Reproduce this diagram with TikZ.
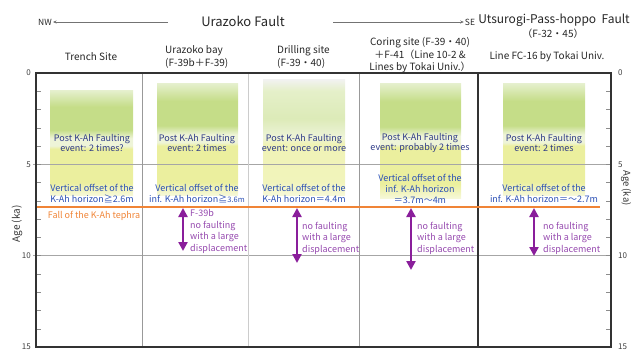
\documentclass[tikz,border=0pt]{standalone}
\usepackage{fontspec}
\setmainfont{Noto Sans CJK JP}
\usetikzlibrary{arrows.meta,positioning,calc}

\definecolor{navy}{HTML}{2E3A87}
\definecolor{offblue}{HTML}{2A4FB5}
\definecolor{arrpurple}{HTML}{8A1E9B}
\definecolor{nfpurple}{HTML}{9548AE}
\definecolor{tephra}{HTML}{F08436}
\definecolor{grn}{HTML}{C5DD88}
\definecolor{grntop}{HTML}{E6F0CF}
\definecolor{bandw}{HTML}{EEF4D8}
\definecolor{ylw}{HTML}{EBEF9E}
\definecolor{ylwfade}{HTML}{F6F8D8}

\pgfdeclareverticalshading{kahfill}{100bp}{color(0bp)=(ylwfade); color(25bp)=(ylwfade);
  color(31bp)=(ylw); color(47bp)=(ylw); color(48.5bp)=(bandw); color(52bp)=(bandw);
  color(56bp)=(grn); color(67bp)=(grn); color(75bp)=(grntop); color(100bp)=(grntop)}
\pgfdeclareverticalshading{drillfill}{100bp}{color(0bp)=(ylwfade); color(25bp)=(ylwfade);
  color(31bp)=(ylw!70!white); color(47bp)=(ylw!75!white); color(50bp)=(bandw);
  color(58bp)=(grn!60!white); color(70bp)=(grn!45!white); color(75bp)=(black!5); color(100bp)=(black!5)}

\begin{document}
\begin{tikzpicture}[x=1pt,y=-1pt,
  hdr/.style={font=\fontsize{10}{13}\selectfont, text=black!85, inner sep=0pt},
  postev/.style={font=\fontsize{9}{10.5}\selectfont, align=center, text=navy, inner sep=0pt},
  offset/.style={font=\fontsize{9}{10.8}\selectfont, align=center, text=offblue, inner sep=0pt},
  nofault/.style={font=\fontsize{9}{11.5}\selectfont, align=left, text=nfpurple, anchor=west, inner sep=0pt},
  faultarrow/.style={{Triangle[length=9pt,width=9pt]}-{Triangle[length=9pt,width=9pt]}, line width=2.4pt, draw=arrpurple},
  dirarrow/.style={-{Stealth[length=3.5pt,width=3pt]}, draw=black!55, line width=0.5pt, shorten >=1pt},
  axlbl/.style={font=\fontsize{8}{9}\selectfont, text=black!75, inner sep=0pt},
  divider/.style={line width=0.6pt, draw=black!40},
  tick/.style={line width=0.5pt, draw=black!45},
]
\useasboundingbox (0,0) rectangle (633,351);

% coloured columns
\shade[shading=kahfill] (50,90) rectangle (133,195);
\shade[shading=kahfill] (157,83) rectangle (238,195);
\shade[shading=drillfill] (263,79) rectangle (345,195);
\shade[shading=kahfill] (380,83) rectangle (461,198);
\shade[shading=kahfill] (503,83) rectangle (585,195);

% grid and frame
\draw[divider, draw=black!35] (33,164.35) -- (611,164.35);
\draw[divider, draw=black!35] (33,255.7) -- (611,255.7);
\draw[divider] (142,73) -- (142,347);
\draw[divider, draw=black!20, line width=1pt] (248,73) -- (248,347);
\draw[divider] (359,73) -- (359,347);
\draw[line width=1.2pt, draw=black!80] (478,73) -- (478,347);
\foreach \k in {1,...,14} {
  \draw[tick] (36,{73+18.27*\k}) -- ++(5,0);
  \draw[tick] (611,{73+18.27*\k}) -- ++(-5,0);
}
\draw[line width=1.1pt, draw=black!80] (36,73) rectangle (611,347);
\foreach \k in {0,5,10,15} {
  \node[axlbl, anchor=east] (lt\k) at (31,{73+18.27*\k}) {\k};
  \node[axlbl, anchor=west] (rt\k) at (618,{73+18.27*\k}) {\k};
}
\node[font=\fontsize{10}{12}\selectfont, text=black!80, rotate=90] (agel) at (17,224) {Age (ka)};
\node[font=\fontsize{9.5}{12}\selectfont, text=black!80, rotate=-90, inner sep=0pt] (ager) at (626,188) {Age (ka)};

% K-Ah tephra
\draw[draw=tephra, line width=2.4pt] (37,207) -- (600,207);
\node[font=\fontsize{9}{10}\selectfont, text=tephra, inner sep=0pt] (fall) at (94,215.5) {Fall of the K-Ah tephra};

% titles
\node[hdr, font=\fontsize{13}{15}\selectfont] (urazoko) at (243,21) {Urazoko Fault};
\node[hdr, font=\fontsize{8.5}{10}\selectfont] (nw) at (45,22) {NW};
\node[hdr, font=\fontsize{8.5}{10}\selectfont] (se) at (470,22) {SE};
\coordinate (nwstart) at (168,22);
\coordinate (sestart) at (333,22);
\draw[dirarrow] (nwstart) -- (nw.east);
\draw[dirarrow] (sestart) -- (se.west);
\node[hdr, font=\fontsize{12}{15}\selectfont] (utsu) at (554,20) {Utsurogi-Pass-hoppo\ \ Fault};
\node[hdr] (utsuno) at (553,34) {（F-32・45）};

% column headers
\node[hdr] (trench) at (91,57) {Trench Site};
\node[hdr, align=left, anchor=west] (bay) at (165,56.5) {Urazoko bay\\(F-39b＋F-39)};
\node[hdr, align=left, anchor=west] (drill) at (277,56.5) {Drilling site\\(F-39・40)};
\node[hdr, align=center, font=\fontsize{10}{12.5}\selectfont] (coring) at (420,55.5) {Coring site (F-39・40)\\＋F-41（Line 10-2 \&\\Lines by Tokai Univ.）};
\node[hdr] (fc16) at (547,57) {Line FC-16 by Tokai Univ.};

% faulting events
\node[postev] (ev1) at (92,143) {Post K-Ah Faulting\\event: 2 times?};
\node[postev] (ev2) at (197,143) {Post K-Ah Faulting\\event: 2 times};
\node[postev] (ev3) at (304,143) {Post K-Ah Faulting\\event: once or more};
\node[postev] (ev4) at (420,143) {Post K-Ah Faulting\\event: probably 2 times};
\node[postev] (ev5) at (544,143) {Post K-Ah Faulting\\event: 2 times};

% vertical offsets
\node[offset] (off1) at (92,193.5) {Vertical offset of the\\K-Ah horizon≧2.6m};
\node[offset] (off2) at (197,193.5) {Vertical offset of the\\inf. K-Ah horizon≧{\fontsize{7.5}{9}\selectfont 3.6m}};
\node[offset] (off3) at (304,193.5) {Vertical offset of the\\K-Ah horizon＝4.4m};
\node[offset] (off4) at (420,189) {Vertical offset of the\\inf. K-Ah horizon\\＝3.7m～4m};
\node[offset] (off5) at (544,193.5) {Vertical offset of the\\inf. K-Ah horizon＝～2.7m};

% no large displacement
\coordinate (a1t) at (183,208); \coordinate (a1b) at (183,251);
\coordinate (a2t) at (297,208); \coordinate (a2b) at (297,263);
\coordinate (a3t) at (411,208); \coordinate (a3b) at (411,270);
\coordinate (a4t) at (534,208); \coordinate (a4b) at (534,256);
\draw[faultarrow] (a1t) -- (a1b);
\draw[faultarrow] (a2t) -- (a2b);
\draw[faultarrow] (a3t) -- (a3b);
\draw[faultarrow] (a4t) -- (a4b);
\node[nofault] (nf1) at (190,231.5) {F-39b\\no faulting\\with a large\\displacement};
\node[nofault] (nf2) at (302,238) {no faulting\\with a large\\displacement};
\node[nofault] (nf3) at (417,238) {no faulting\\with a large\\displacement};
\node[nofault] (nf4) at (543,238) {no faulting\\with a large\\displacement};
\end{tikzpicture}
\end{document}
